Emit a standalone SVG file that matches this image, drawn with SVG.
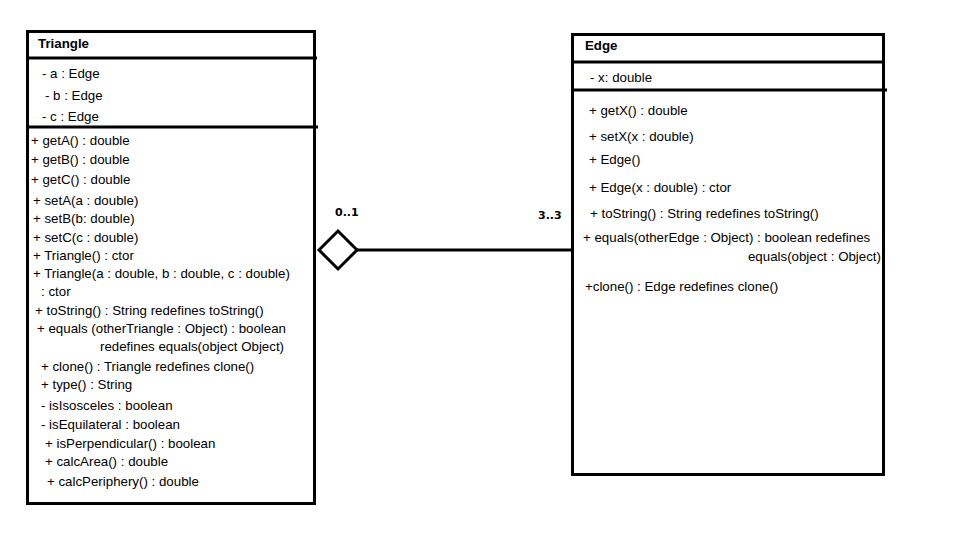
<svg xmlns="http://www.w3.org/2000/svg" width="972" height="557" viewBox="0 0 972 557">
<style>
.box{fill:#fff;stroke:#000;stroke-width:3}
.ln{stroke:#000;stroke-width:3;fill:none}
text{font-family:"Liberation Sans",Arial,sans-serif;font-size:13.3px;fill:#000}
.t{font-weight:bold}
.m{font-family:"DejaVu Sans",Verdana,sans-serif;font-weight:bold;font-size:11px}
</style>
<rect width="972" height="557" fill="#fff"/>
<g id="triangle">
<rect class="box" x="27.5" y="31.5" width="287" height="472"/>
<line class="ln" x1="27" y1="58" x2="317" y2="58"/>
<line class="ln" x1="27" y1="127" x2="318" y2="127"/>
<text class="t" x="38" y="48">Triangle</text>
<text x="42" y="78">- a : Edge</text>
<text x="45" y="100">- b : Edge</text>
<text x="42" y="121">- c : Edge</text>
<text x="31" y="145">+ getA() : double</text>
<text x="31" y="164">+ getB() : double</text>
<text x="31" y="184">+ getC() : double</text>
<text x="33" y="205">+ setA(a : double)</text>
<text x="33" y="223">+ setB(b: double)</text>
<text x="33" y="242">+ setC(c : double)</text>
<text x="33" y="260">+ Triangle() : ctor</text>
<text x="33" y="278">+ Triangle(a : double, b : double, c : double)</text>
<text x="41" y="296">: ctor</text>
<text x="35" y="315">+  toString() : String redefines toString()</text>
<text x="37" y="333">+ equals (otherTriangle : Object) : boolean</text>
<text x="100" y="351">redefines equals(object Object)</text>
<text x="41" y="371">+ clone() : Triangle redefines clone()</text>
<text x="41" y="389">+ type() : String</text>
<text x="41" y="410">- isIsosceles : boolean</text>
<text x="41" y="429">- isEquilateral : boolean</text>
<text x="45" y="448">+ isPerpendicular() : boolean</text>
<text x="45" y="466">+ calcArea() : double</text>
<text x="47" y="486">+ calcPeriphery() : double</text>
</g>
<g id="edge">
<rect class="box" x="572.5" y="34.5" width="311" height="440"/>
<line class="ln" x1="572" y1="62" x2="884" y2="62"/>
<line class="ln" x1="572" y1="90" x2="887" y2="90"/>
<text class="t" x="585" y="50">Edge</text>
<text x="590" y="82">-  x: double</text>
<text x="589" y="115">+ getX() : double</text>
<text x="589" y="141">+ setX(x : double)</text>
<text x="589" y="164">+ Edge()</text>
<text x="589" y="192">+ Edge(x : double) : ctor</text>
<text x="590" y="218">+  toString() : String redefines toString()</text>
<text x="583" y="242">+ equals(otherEdge : Object) : boolean redefines</text>
<text x="881" y="261" text-anchor="end">equals(object : Object)</text>
<text x="585" y="291">+clone() : Edge redefines clone()</text>
</g>
<g id="connectors">
<polygon class="ln" points="319,250 338,231 357,250 338,269"/>
<line class="ln" x1="357" y1="250" x2="573" y2="250"/>
<text class="m" x="335" y="216">0..1</text>
<text class="m" x="538" y="219">3..3</text>
</g>
</svg>
